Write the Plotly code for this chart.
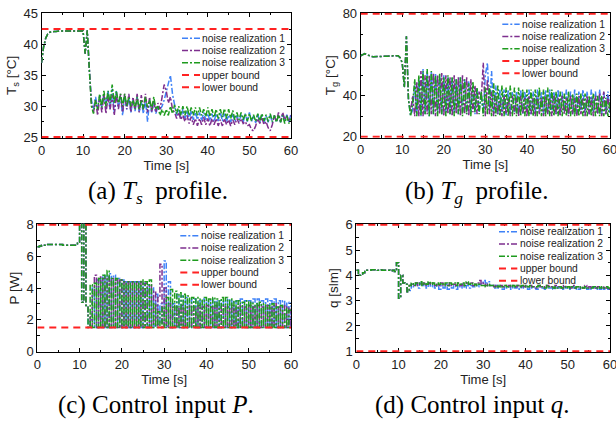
import plotly.graph_objects as go

W, H = 616, 424          # target picture size
OFF = 0                  # body margin is removed by the post script below
FW, FH = W, H
DT = 0.5  # sampling step of the series [s]

# ---------------- (a) substrate temperature Ts [°C] ----------------
TS_START = [37.0, 39.6, 41.0, 41.7, 42.0, 42.1, 42.1, 42.1, 42.2, 42.2, 42.2, 42.2,
            42.2, 42.2, 42.2, 42.2, 42.2, 42.2, 42.2, 42.1, 42.2, 38.5, 42.3, 36.0]
TS_N1 = TS_START + [
    31.0, 29.5, 31.5, 29.5, 31.8, 29.6, 32.0, 30.0, 32.5, 29.5,
    32.8, 29.0, 32.5, 29.8, 31.5, 28.5, 31.8, 29.5, 31.5, 29.0,
    31.0, 29.2, 31.5, 29.0, 30.8, 28.8, 31.0, 27.5, 31.0, 29.0,
    30.5, 28.8, 30.0, 29.5, 30.0, 31.0, 32.5, 33.5, 35.0, 32.0,
    30.0, 28.5, 29.5, 28.0, 29.5, 28.0, 29.3, 27.8, 29.3, 27.8,
    29.0, 27.8, 29.0, 27.6, 29.0, 27.8, 28.8, 27.6, 28.8, 27.5,
    28.8, 27.6, 29.0, 27.6, 28.8, 27.5, 28.6, 27.4, 28.8, 27.5,
    28.5, 27.5, 28.6, 27.4, 28.8, 27.5, 29.0, 27.5, 28.5, 27.3,
    28.8, 27.4, 28.6, 27.3, 28.5, 27.4, 28.7, 27.3, 28.5, 27.4,
    28.6, 27.4, 28.8, 27.5, 28.6, 27.4, 28.8]
TS_N2 = TS_START + [
    30.5, 29.0, 31.0, 28.5, 31.5, 29.0, 32.0, 28.8, 31.5, 29.5,
    31.8, 28.5, 32.0, 29.5, 32.0, 29.0, 32.0, 29.5, 32.0, 29.0,
    31.5, 29.5, 32.0, 29.0, 31.8, 29.5, 32.0, 29.0, 31.5, 29.0,
    31.0, 29.0, 30.5, 29.5, 31.5, 33.5, 32.5, 30.5, 31.5, 29.5,
    29.0, 28.0, 29.0, 27.8, 28.5, 27.5, 28.5, 27.2, 28.3, 27.0,
    28.0, 26.8, 28.0, 27.0, 28.2, 27.0, 28.0, 26.8, 28.0, 27.0,
    28.0, 26.8, 27.8, 26.8, 28.0, 27.0, 27.8, 26.8, 27.8, 27.0,
    28.0, 27.2, 28.0, 27.2, 27.5, 26.8, 27.0, 26.2, 26.0, 26.8,
    28.0, 27.2, 28.2, 27.0, 27.5, 26.5, 26.0, 27.0, 28.5, 27.5,
    29.0, 27.5, 29.0, 27.8, 28.5, 27.5, 28.5]
TS_N3 = TS_START + [
    30.0, 28.8, 31.0, 29.5, 32.0, 29.8, 32.5, 30.0, 32.5, 30.5,
    33.5, 30.5, 32.5, 30.5, 32.0, 30.0, 32.0, 30.0, 31.5, 30.0,
    31.0, 29.5, 31.5, 29.5, 31.0, 29.5, 31.5, 29.8, 31.0, 29.5,
    31.5, 29.5, 30.0, 28.5, 29.5, 28.5, 29.5, 28.5, 30.0, 28.8,
    30.2, 28.8, 30.0, 28.5, 30.0, 28.5, 30.0, 28.5, 29.8, 28.5,
    29.8, 28.5, 29.8, 28.5, 29.5, 28.3, 29.8, 28.3, 29.5, 28.2,
    29.5, 28.0, 29.5, 28.2, 29.6, 28.0, 29.5, 28.0, 29.3, 27.8,
    29.0, 27.8, 29.0, 27.8, 28.8, 27.6, 28.8, 27.6, 28.6, 27.5,
    28.8, 27.6, 28.8, 27.6, 28.6, 27.5, 28.8, 27.5, 28.5, 27.4,
    28.6, 27.4, 28.5, 27.2, 28.4, 27.2, 28.0]
TS_BOUNDS = [42.5, 25.0]

# ---------------- (b) gas temperature Tg [°C] ----------------
TG_START = [59.5, 60.0, 60.5, 60.0, 59.5, 59.2, 59.0, 59.0, 59.2, 59.2, 59.3, 59.3,
            59.3, 59.3, 59.4, 59.4, 59.5, 59.5, 59.5, 58.5, 56.0, 44.0, 69.0, 38.0]
TG_N1 = TG_START + [
    30.5, 33, 45, 31, 48, 30, 53, 31, 52, 30,
    52, 31, 51, 32, 50, 31, 50, 32, 49, 31,
    49, 32, 48, 31, 49, 32, 48, 31, 47, 32,
    45, 31, 44, 32, 42, 31, 50, 56, 33, 52,
    31, 45, 31, 43, 32, 43, 30.5, 43, 31, 42,
    32, 42, 31, 43, 31, 42, 33, 43, 31, 42,
    31, 43, 32, 42, 31, 43, 31, 43, 33, 42,
    31, 43, 31, 42, 32, 43, 31, 42, 31, 43,
    31, 42, 33, 43, 31, 42, 31, 43, 32, 42,
    31, 43, 31, 42, 31, 42, 31]
TG_N2 = TG_START + [
    32, 40, 30, 47, 30, 52, 30, 50, 31, 50,
    31, 51, 30, 50, 31, 51, 30, 50, 31, 49,
    30, 50, 31, 49, 30, 50, 31, 49, 30, 48,
    32, 45, 31, 42, 38, 56, 30, 48, 31, 42,
    30, 40, 31, 38, 30, 40, 31, 39, 30, 40,
    31, 39, 30, 40, 31, 39, 30, 40, 31, 39,
    30, 40, 31, 39, 30, 40, 31, 39, 30, 40,
    31, 39, 30, 40, 31, 39, 30, 40, 31, 39,
    30, 40, 31, 39, 30, 40, 31, 39, 30, 40,
    31, 41, 30, 42, 31, 40, 32]
TG_N3 = TG_START + [
    30, 36, 48, 30, 50, 30, 52, 31, 53, 30,
    52, 31, 50, 30, 51, 31, 49, 30, 50, 31,
    49, 30, 48, 31, 49, 30, 48, 31, 46, 30,
    47, 32, 44, 31, 42, 30, 44, 31, 45, 30,
    46, 30, 45, 30, 45, 30, 44, 30, 45, 30,
    44, 30, 44, 30, 43, 30, 43, 30, 43, 30,
    43, 30, 44, 30, 43, 30, 44, 30, 43, 30,
    42, 30, 42, 30, 41, 30, 42, 30, 41, 30,
    41, 30, 41, 30, 41, 30, 40, 30, 41, 30,
    40, 30, 40, 30, 39, 30, 38]
TG_BOUNDS = [80.0, 20.0]

# ---------------- (c) power P [W] ----------------
P_START = [6.6, 6.65, 6.7, 6.7, 6.75, 6.75, 6.75, 6.75, 6.75, 6.75, 6.75, 6.75,
           6.7, 6.7, 6.7, 6.7, 6.7, 6.7, 6.7, 6.9, 8.2, 3.1, 8.2, 2.9]
P_N1 = P_START + [
    1.5, 2.0, 4.0, 1.5, 4.5, 1.5, 4.7, 1.5, 4.8, 1.5,
    4.9, 1.5, 4.8, 1.5, 4.6, 1.5, 4.5, 1.5, 4.4, 1.5,
    4.4, 1.5, 4.4, 1.5, 4.4, 1.5, 4.3, 1.5, 4.2, 1.5,
    4.0, 1.6, 3.6, 1.7, 3.0, 1.8, 5.7, 1.6, 4.4, 1.5,
    3.0, 1.5, 3.6, 1.5, 3.5, 1.5, 3.4, 1.5, 3.3, 1.5,
    3.3, 1.5, 3.2, 1.5, 3.3, 1.5, 3.2, 1.5, 3.3, 1.5,
    3.2, 1.5, 3.2, 1.5, 3.2, 1.5, 3.3, 1.5, 3.2, 1.5,
    3.2, 1.5, 3.3, 1.5, 3.2, 1.5, 3.2, 1.5, 3.3, 1.5,
    3.3, 1.5, 3.2, 1.5, 3.3, 1.5, 3.2, 1.5, 3.3, 1.5,
    3.2, 1.5, 3.2, 1.5, 3.1, 1.5, 3.1]
P_N2 = P_START + [
    2.2, 1.5, 3.5, 4.8, 1.5, 4.7, 1.5, 4.6, 1.5, 4.7,
    1.5, 4.6, 1.5, 4.5, 1.5, 4.5, 1.5, 4.4, 1.5, 4.4,
    1.5, 4.4, 1.5, 4.4, 1.5, 4.4, 1.5, 4.3, 1.5, 4.2,
    1.5, 3.8, 1.6, 3.4, 5.5, 1.5, 4.0, 1.5, 3.0, 1.5,
    2.8, 1.5, 2.8, 1.5, 2.9, 1.5, 2.8, 1.5, 2.9, 1.5,
    2.8, 1.5, 2.9, 1.5, 2.8, 1.5, 2.9, 1.5, 2.8, 1.5,
    2.9, 1.5, 2.8, 1.5, 2.9, 1.5, 2.8, 1.5, 2.9, 1.5,
    2.8, 1.5, 2.9, 1.5, 2.8, 1.5, 2.9, 1.5, 2.8, 1.5,
    2.9, 1.5, 2.8, 1.5, 2.9, 1.5, 2.8, 1.5, 3.0, 1.5,
    2.8, 1.5, 2.9, 1.5, 2.8, 1.5, 2.7]
P_N3 = P_START + [
    1.5, 4.2, 1.5, 4.3, 1.5, 4.6, 1.5, 4.8, 1.5, 5.1,
    1.5, 4.6, 1.5, 4.6, 1.5, 4.5, 1.5, 4.4, 1.5, 4.4,
    1.5, 4.4, 1.5, 4.4, 1.5, 4.5, 1.5, 4.4, 1.5, 4.5,
    1.5, 3.0, 1.5, 2.5, 1.5, 2.8, 1.5, 3.4, 1.5, 3.9,
    1.5, 3.8, 1.5, 3.7, 1.5, 3.6, 1.5, 3.5, 1.5, 3.4,
    1.5, 3.4, 1.5, 3.3, 1.5, 3.4, 1.5, 3.3, 1.5, 3.4,
    1.5, 3.3, 1.5, 3.4, 1.5, 3.4, 1.5, 3.3, 1.5, 3.2,
    1.5, 3.2, 1.5, 3.1, 1.5, 3.2, 1.5, 3.1, 1.5, 3.0,
    1.5, 3.1, 1.5, 3.0, 1.5, 2.9, 1.5, 3.0, 1.5, 2.8,
    1.5, 2.9, 1.5, 2.7, 1.5, 2.6, 2.5]
P_BOUNDS = [8.0, 1.5]

# ---------------- (d) flow q [slm] ----------------
Q_START = [4.2, 4.0, 4.05, 4.1, 4.15, 4.2, 4.2, 4.22, 4.22, 4.22, 4.2, 4.22,
           4.2, 4.2, 4.2, 4.2, 4.18, 4.2, 4.15, 4.5, 3.1, 4.0, 3.7, 3.65]
Q_N1 = Q_START + [
    3.35, 3.4, 3.65, 3.55, 3.65, 3.5, 3.7, 3.6, 3.65, 3.5,
    3.7, 3.55, 3.65, 3.5, 3.6, 3.45, 3.6, 3.5, 3.65, 3.45,
    3.6, 3.5, 3.6, 3.45, 3.6, 3.5, 3.65, 3.5, 3.6, 3.5,
    3.6, 3.55, 3.6, 3.55, 3.65, 3.7, 3.8, 3.7, 3.75, 3.6,
    3.6, 3.5, 3.6, 3.5, 3.55, 3.45, 3.55, 3.5, 3.55, 3.45,
    3.55, 3.5, 3.55, 3.45, 3.55, 3.5, 3.55, 3.45, 3.55, 3.5,
    3.5, 3.45, 3.55, 3.5, 3.5, 3.45, 3.55, 3.5, 3.5, 3.45,
    3.55, 3.5, 3.5, 3.45, 3.55, 3.5, 3.5, 3.45, 3.55, 3.45,
    3.5, 3.45, 3.55, 3.5, 3.5, 3.45, 3.5, 3.45, 3.55, 3.45,
    3.5, 3.45, 3.5, 3.45, 3.5, 3.45, 3.5]
Q_N2 = Q_START + [
    3.35, 3.6, 3.65, 3.6, 3.7, 3.6, 3.7, 3.65, 3.7, 3.6,
    3.7, 3.65, 3.7, 3.6, 3.65, 3.6, 3.7, 3.6, 3.65, 3.6,
    3.7, 3.6, 3.65, 3.6, 3.7, 3.6, 3.65, 3.6, 3.7, 3.65,
    3.7, 3.6, 3.65, 3.7, 3.8, 3.65, 3.7, 3.6, 3.65, 3.6,
    3.6, 3.55, 3.6, 3.55, 3.6, 3.55, 3.6, 3.55, 3.6, 3.55,
    3.6, 3.55, 3.6, 3.55, 3.6, 3.55, 3.6, 3.55, 3.6, 3.55,
    3.55, 3.5, 3.6, 3.55, 3.55, 3.5, 3.6, 3.55, 3.55, 3.5,
    3.6, 3.55, 3.55, 3.5, 3.6, 3.55, 3.55, 3.5, 3.6, 3.5,
    3.55, 3.5, 3.55, 3.5, 3.6, 3.5, 3.55, 3.5, 3.55, 3.5,
    3.55, 3.5, 3.55, 3.5, 3.5, 3.45, 3.5]
Q_N3 = Q_START + [
    3.35, 3.6, 3.7, 3.6, 3.7, 3.65, 3.75, 3.6, 3.7, 3.65,
    3.75, 3.65, 3.7, 3.6, 3.7, 3.65, 3.7, 3.6, 3.7, 3.6,
    3.7, 3.65, 3.7, 3.6, 3.7, 3.65, 3.7, 3.6, 3.75, 3.65,
    3.7, 3.6, 3.65, 3.6, 3.65, 3.6, 3.6, 3.55, 3.65, 3.6,
    3.6, 3.55, 3.6, 3.55, 3.6, 3.55, 3.6, 3.55, 3.6, 3.55,
    3.6, 3.55, 3.6, 3.55, 3.6, 3.55, 3.6, 3.55, 3.6, 3.55,
    3.55, 3.55, 3.6, 3.55, 3.55, 3.5, 3.6, 3.55, 3.55, 3.5,
    3.55, 3.5, 3.55, 3.5, 3.55, 3.5, 3.55, 3.5, 3.55, 3.5,
    3.55, 3.5, 3.55, 3.5, 3.55, 3.5, 3.5, 3.5, 3.55, 3.5,
    3.55, 3.5, 3.55, 3.5, 3.55, 3.5, 3.55]
Q_BOUNDS = [6.0, 1.0]

NOISE_NAMES = ["noise realization 1", "noise realization 2", "noise realization 3"]
BOUND_NAMES = ["upper bound", "lower bound"]
X_RANGE = [0, 60]

# ---------------- styling ----------------
NOISE_COLORS = ["#3F82F7", "#7E2F8E", "#1E9B1E"]
BOUND_COLOR = "#FF2222"
DASHDOT = "6px,2px,2px,2px"
DASHED = "7px,5px"
SANS = "Liberation Sans, Arial, sans-serif"
SERIF = "Liberation Serif, Times New Roman, serif"


def px(x):
    return (x - OFF) / FW


def py(y):
    return 1 - (y - OFF) / FH


panels = [
    dict(series=[TS_N1, TS_N2, TS_N3], bounds=TS_BOUNDS, yr=[25, 45], dtick=5, minor=2.5,
         shape="linear", ytitle="T<sub>s</sub> [°C]", box=(41.5, 291.0, 12.7, 138.0),
         leg=(182.0, 200.0, 201.0, 38.3),
         cap="(a) <i>T<sub>s</sub></i>  profile.", cap_xy=(158, 192)),
    dict(series=[TG_N1, TG_N2, TG_N3], bounds=TG_BOUNDS, yr=[20, 80], dtick=20, minor=10,
         shape="linear", ytitle="T<sub>g</sub> [°C]", box=(360.7, 610.0, 12.7, 137.7),
         leg=(502.3, 519.7, 520.5, 24.3),
         cap="(b) <i>T<sub>g</sub></i>  profile.", cap_xy=(476, 192)),
    dict(series=[P_N1, P_N2, P_N3], bounds=P_BOUNDS, yr=[0, 8], dtick=2, minor=1,
         shape="hv", ytitle="P [W]", box=(37.3, 291.0, 223.7, 352.3),
         leg=(180.3, 199.0, 199.5, 235.7),
         cap="(c) Control input <i>P</i>.", cap_xy=(156, 405)),
    dict(series=[Q_N1, Q_N2, Q_N3], bounds=Q_BOUNDS, yr=[1, 6], dtick=1, minor=0.5,
         shape="hv", ytitle="q [slm]", box=(356.3, 610.0, 223.7, 352.3),
         leg=(499.0, 517.3, 518.5, 231.7),
         cap="(d) Control input <i>q</i>.", cap_xy=(472, 405)),
]

fig = go.Figure()
layout = dict(width=FW, height=FH, margin=dict(l=0, r=0, t=0, b=0),
              paper_bgcolor="white", plot_bgcolor="white", showlegend=False,
              template="none", font=dict(family=SANS, color="#222"))
shapes, annotations = [], []
LEG_STEP = 12.25

for i, p in enumerate(panels):
    sfx = "" if i == 0 else str(i + 1)
    xa, ya = "x" + sfx, "y" + sfx
    x0, x1, y0, y1 = p["box"]
    plot_h = y1 - y0
    span = p["yr"][1] - p["yr"][0]
    pad = span / plot_h * 1.0
    common = dict(showline=True, linecolor="black", linewidth=1, mirror="ticks",
                  ticks="inside", ticklen=4, tickcolor="black", tickwidth=1,
                  showgrid=False, zeroline=False, layer="below traces", automargin=False,
                  ticklabeloverflow="allow",
                  tickfont=dict(family=SANS, size=13, color="#222"),
                  minor=dict(ticks="inside", ticklen=2.5, tickcolor="black", showgrid=False))
    layout["xaxis" + sfx] = dict(common, domain=[px(x0), px(x1)], range=X_RANGE,
                                 anchor=ya, tick0=0, dtick=10,
                                 minor=dict(common["minor"], dtick=5),
                                 title=dict(text="Time [s]", standoff=2,
                                            font=dict(family=SANS, size=13, color="#222")))
    layout["yaxis" + sfx] = dict(common, domain=[py(y1), py(y0)],
                                 range=[p["yr"][0] - pad, p["yr"][1] + pad],
                                 anchor=xa, tick0=p["yr"][0], dtick=p["dtick"],
                                 minor=dict(common["minor"], dtick=p["minor"]),
                                 title=dict(text=p["ytitle"], standoff=3,
                                            font=dict(family=SANS, size=13.5, color="#222")))
    for k, (vals, name, col) in enumerate(zip(p["series"], NOISE_NAMES, NOISE_COLORS)):
        t = [j * DT for j in range(len(vals))]
        fig.add_trace(go.Scatter(x=t, y=vals, mode="lines", name=name, xaxis=xa, yaxis=ya,
                                 line=dict(color=col, width=1.5, dash=DASHDOT, shape=p["shape"])))
    for b, name in zip(p["bounds"], BOUND_NAMES):
        fig.add_trace(go.Scatter(x=X_RANGE, y=[b, b], mode="lines", name=name,
                                 xaxis=xa, yaxis=ya,
                                 line=dict(color=BOUND_COLOR, width=2, dash=DASHED)))
    # legend (drawn in paper coordinates)
    lx0, lx1, tx, ly = p["leg"]
    entries = [(n, c, DASHDOT, 1.5) for n, c in zip(NOISE_NAMES, NOISE_COLORS)] + \
              [(n, BOUND_COLOR, DASHED, 2) for n in BOUND_NAMES]
    for r, (name, col, dash, wdt) in enumerate(entries):
        yy = py(ly + r * LEG_STEP)
        shapes.append(dict(type="line", xref="paper", yref="paper",
                           x0=px(lx0), x1=px(lx1), y0=yy, y1=yy,
                           line=dict(color=col, width=wdt, dash=dash)))
        annotations.append(dict(text=name, xref="paper", yref="paper", x=px(tx), y=yy,
                                xanchor="left", yanchor="middle", showarrow=False,
                                borderpad=0, font=dict(family=SANS, size=10.3, color="#222")))
    cx, cy = p["cap_xy"]
    annotations.append(dict(text=p["cap"], xref="paper", yref="paper", x=px(cx), y=py(cy),
                            xanchor="center", yanchor="middle", showarrow=False,
                            font=dict(family=SERIF, size=25, color="black")))

layout["shapes"] = shapes
layout["annotations"] = annotations
fig.update_layout(**layout)
fig.write_html("out.html", config={"displayModeBar": False},
               post_script="document.body.style.margin='0';document.body.style.overflow='hidden';")
